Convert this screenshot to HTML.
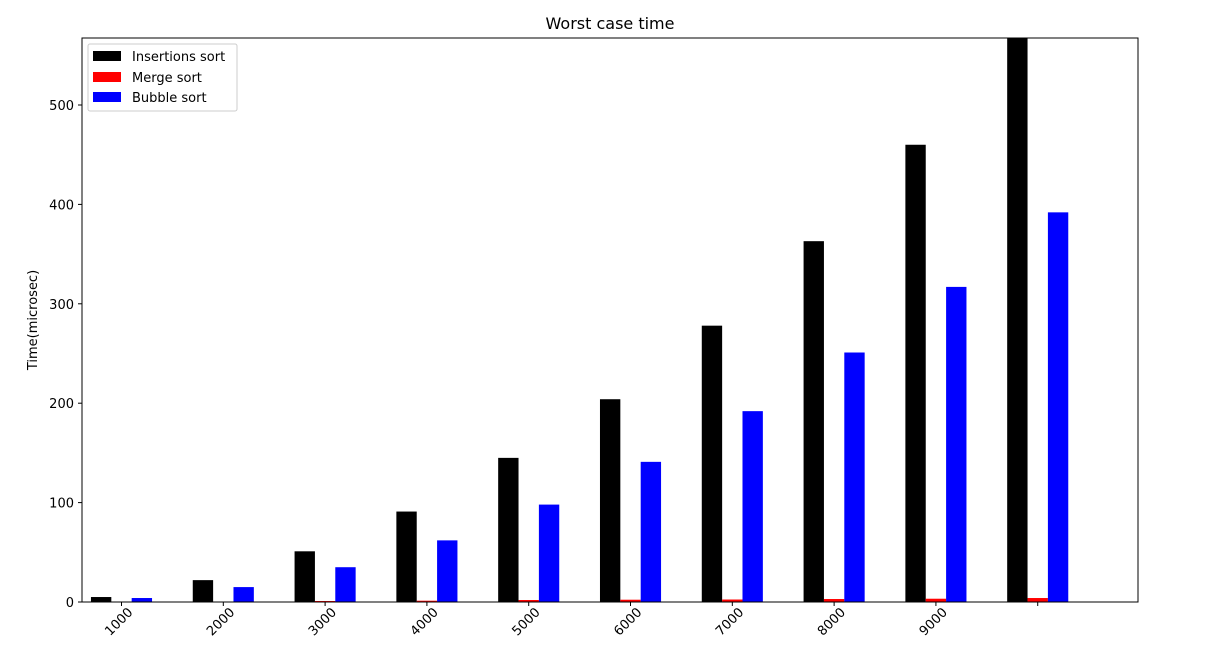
<!DOCTYPE html>
<html><head><meta charset="utf-8"><style>
body{margin:0;background:#fff;font-family:"Liberation Sans","DejaVu Sans",sans-serif}
svg text{font-family:"DejaVu Sans","Liberation Sans",sans-serif}
</style></head><body>
<svg id="chart" width="1208" height="656" xmlns="http://www.w3.org/2000/svg">
<text x="610" y="29" font-size="16" text-anchor="middle">Worst case time</text>
<text transform="translate(37,320) rotate(-90)" font-size="13" text-anchor="middle">Time(microsec)</text>
<g id="marks"></g>
<rect x="82" y="38" width="1056" height="564" fill="none" stroke="#000" stroke-width="1"/>
<g>
<rect x="88" y="44" width="149" height="67" fill="#fff" stroke="#ccc" rx="2"/>
<rect x="93" y="51" width="28" height="10" fill="#000"/>
<text x="132" y="61" font-size="13">Insertions sort</text>
<rect x="93" y="72" width="28" height="10" fill="#f00"/>
<text x="132" y="82" font-size="13">Merge sort</text>
<rect x="93" y="92" width="28" height="10" fill="#00f"/>
<text x="132" y="102" font-size="13">Bubble sort</text>
</g>
</svg>
<script>
const categories=["1000","2000","3000","4000","5000","6000","7000","8000","9000",""];
const insertion=[5,22,51,91,145,204,278,363,460,575];
const merge=[0.3,0.5,1,1.3,2,2.3,2.5,3,3.3,4];
const bubble=[4,15,35,62,98,141,192,251,317,392];
const yTicks=[0,100,200,300,400,500];
const X0=82,X1=1138,Y0=602,Y1=38,XMIN=-0.188,XMAX=10.185,YMAX=567.4;
const xs=v=>X0+(v-XMIN)/(XMAX-XMIN)*(X1-X0);
const ys=v=>Y0-Math.min(v,YMAX)/YMAX*(Y0-Y1);
const NS="http://www.w3.org/2000/svg";
const g=document.getElementById('marks');
function mk(t,a){const e=document.createElementNS(NS,t);for(const k in a)e.setAttribute(k,a[k]);g.appendChild(e);return e;}
const series=[[insertion,"#000",0,"insertion"],[merge,"#f00",0.2,"merge"],[bubble,"#00f",0.4,"bubble"]];
series.forEach(([arr,col,off,nm])=>{
 arr.forEach((v,i)=>{
  const x=xs(i+off-0.1),w=xs(i+off+0.1)-x;
  const r=mk('rect',{x:x,y:ys(v),width:w,height:Y0-ys(v),fill:col});
  
  
 });
});
categories.forEach((c,i)=>{
 const x=xs(i+0.2);
 const t=mk('line',{x1:x,x2:x,y1:Y0,y2:Y0+4,stroke:'#000'});
 
 
 if(c){
  const l=mk('text',{transform:`translate(${x+12},${Y0+11}) rotate(-45)`,'font-size':13,'text-anchor':'end'});
  l.textContent=c;
  
  
 }
});
yTicks.forEach(v=>{
 const y=ys(v);
 const t=mk('line',{x1:X0-4,x2:X0,y1:y,y2:y,stroke:'#000'});
 
 
 const l=mk('text',{x:X0-8,y:y+5,'font-size':13,'text-anchor':'end'});
 l.textContent=v;
 
 
});
</script>
</body></html>
